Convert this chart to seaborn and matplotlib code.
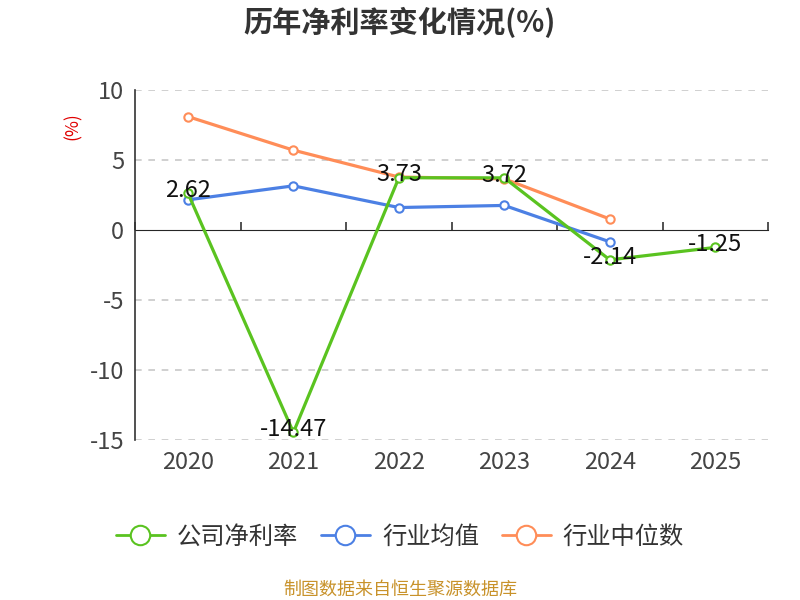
import pandas as pd
import matplotlib.pyplot as plt
import seaborn as sns
from matplotlib.lines import Line2D

years = ['2020', '2021', '2022', '2023', '2024', '2025']
company = [2.62, -14.47, 3.73, 3.72, -2.14, -1.25]
industry_mean = [2.15, 3.15, 1.6, 1.75, -0.85]
industry_median = [8.1, 5.7, 3.78, 3.65, 0.78]

series_names = ['公司净利率', '行业均值', '行业中位数']
colors = {'公司净利率': '#5ac320', '行业均值': '#4c80e4', '行业中位数': '#ff8d58'}

rows = []
for name, vals in zip(series_names, [company, industry_mean, industry_median]):
    for i, v in enumerate(vals):
        rows.append({'pos': i, 'value': v, 'series': name})
df = pd.DataFrame(rows)

sns.set_style('white')
plt.rcParams['font.family'] = ['Noto Sans CJK SC', 'DejaVu Sans']
plt.rcParams['axes.unicode_minus'] = False

fig = plt.figure(figsize=(8, 6), dpi=100)
ax = fig.add_axes([0.169, 0.267, 0.791, 0.583])

# draw series in reverse so the company line sits on top
for name in series_names[::-1]:
    sub = df[df['series'] == name]
    sns.lineplot(data=sub, x='pos', y='value', color=colors[name], lw=2.3,
                 marker='o', markersize=6, markerfacecolor='white',
                 markeredgecolor=colors[name], markeredgewidth=1.5,
                 ax=ax, legend=False, zorder=3)

ax.set_xlim(-0.5, len(years) - 0.5)
ax.set_ylim(-15, 10)
ax.set_yticks([10, 5, 0, -5, -10, -15])
ax.set_xticks(range(len(years)))
ax.set_xticklabels(years)
ax.set_xlabel('')
ax.set_ylabel('')

for y in [10, 5, -5, -10, -15]:
    ax.axhline(y, color='#c8c8c8', lw=1.2, ls=(0, (4, 4)), zorder=1)

for s in ['top', 'right', 'bottom']:
    ax.spines[s].set_visible(False)
ax.spines['left'].set_color('#333333')
ax.spines['left'].set_linewidth(1.2)
ax.tick_params(axis='y', length=5, width=1.2, color='#333333',
               labelsize=17, labelcolor='#444444', pad=3)
ax.tick_params(axis='x', length=0, labelsize=17, labelcolor='#444444', pad=8)

# zero axis line with boundary ticks
zero_frac = (0 - (-15)) / 25
sec = ax.secondary_xaxis(zero_frac)
sec.set_xticks([i - 0.5 for i in range(len(years) + 1)])
sec.set_xticklabels([])
sec.spines['bottom'].set_color('#333333')
sec.spines['bottom'].set_linewidth(1.2)
sec.tick_params(axis='x', direction='out', length=6, width=1.2, color='#333333')

for i, v in enumerate(company):
    ax.annotate(f'{v:.2f}', (i, v), xytext=(0, 2), textcoords='offset points',
                ha='center', va='center', fontsize=17, color='#111111', zorder=5)

fig.text(0.5, 0.962, '历年净利率变化情况(%)', ha='center', va='center',
         fontsize=21, fontweight='bold', color='#333333')
fig.text(0.091, 0.79, '(%)', ha='center', va='center', rotation=90,
         fontsize=12.5, color='#e00000')

handles = [Line2D([0], [0], color=colors[n], lw=2, marker='o', markersize=14,
                  markerfacecolor='white', markeredgecolor=colors[n],
                  markeredgewidth=1.5) for n in series_names]
fig.legend(handles, series_names, loc='center', bbox_to_anchor=(0.5, 0.105),
           ncol=3, frameon=False, fontsize=17.5, handlelength=2.0,
           columnspacing=0.95, handletextpad=0.5, labelcolor='#333333')

fig.text(0.5, 0.018, '制图数据来自恒生聚源数据库', ha='center', va='center',
         fontsize=13, color='#c8922a')

fig.savefig('out.png', dpi=100)
